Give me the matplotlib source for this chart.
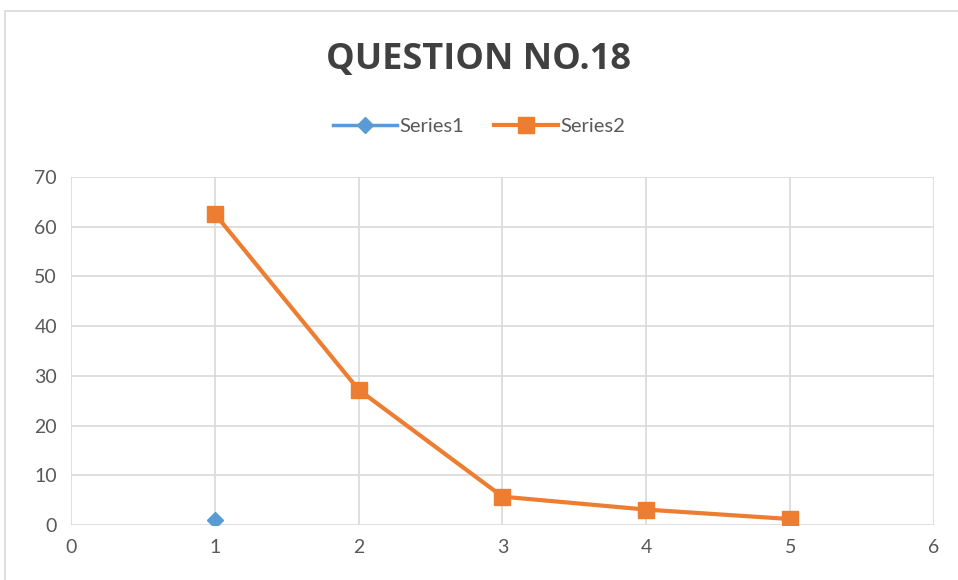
import matplotlib
matplotlib.use("Agg")
import matplotlib.pyplot as plt
from matplotlib.patches import Rectangle

plt.rcParams['font.family'] = ['Lato', 'DejaVu Sans']

s1_x = [1]
s1_y = [1.0]
s2_x = [1, 2, 3, 4, 5]
s2_y = [62.6, 27.2, 5.7, 3.1, 1.2]
title = "QUESTION NO.18"
x_ticks = [0, 1, 2, 3, 4, 5, 6]
y_ticks = [0, 10, 20, 30, 40, 50, 60, 70]

fig = plt.figure(figsize=(9.58, 5.8), dpi=100)
fig.patches.append(Rectangle((5/958, -0.1), 1.1, 1 - 11/580 + 0.1, transform=fig.transFigure,
                             fill=False, edgecolor='#d9d9d9', linewidth=1.2))
ax = fig.add_axes([71/958, 55/580, (934-71)/958, (525-177)/580])

ax.plot(s1_x, s1_y, color='#5b9bd5', marker='D', markersize=8, linewidth=2.5, label='Series1', zorder=3)
ax.plot(s2_x, s2_y, color='#ed7d31', marker='s', markersize=11, linewidth=3, label='Series2', zorder=3)

ax.set_xlim(0, 6)
ax.set_ylim(0, 70)
ax.set_xticks(x_ticks)
ax.set_yticks(y_ticks)
ax.grid(True, color='#d9d9d9', linewidth=1.2)
ax.set_axisbelow(True)
for sp in ax.spines.values():
    sp.set_visible(False)
ax.tick_params(length=0, labelsize=14, labelcolor='#595959', pad=10)

fig.text(0.5, 0.896, title, ha='center', va='center', fontsize=26, fontweight='bold', color='#404040',
         family=['Open Sans', 'DejaVu Sans'])
leg = fig.legend(loc='center', bbox_to_anchor=(0.5, 1 - 126/580), ncol=2, frameon=False,
                 fontsize=14.5, labelcolor='#595959', handlelength=3.2, handletextpad=0.1, columnspacing=1.5)
fig.savefig('out.png', dpi=100, facecolor='white')
